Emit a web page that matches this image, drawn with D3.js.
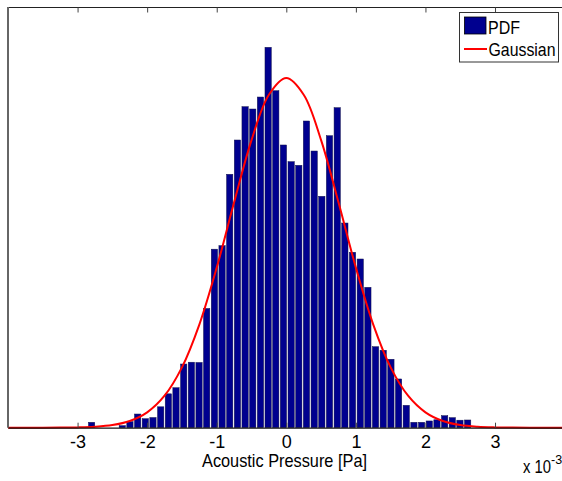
<!DOCTYPE html>
<html>
<head>
<meta charset="utf-8">
<script src="https://cdn.jsdelivr.net/npm/d3@7"></script>
<style>
  html, body { margin: 0; padding: 0; background: #fff; }
  svg { display: block; }
  text { font-family: "Liberation Sans", Arial, sans-serif; fill: #000; }
</style>
</head>
<body>
<svg id="chart" width="562" height="481"></svg>
<script>
// ---- data (x values in units of 1e-3 Pa) ----
const binCenters = [-2.794, -2.684, -2.573, -2.463, -2.353, -2.243, -2.132, -2.022, -1.912, -1.801,
                    -1.691, -1.581, -1.470, -1.360, -1.250, -1.140, -1.029, -0.919, -0.809, -0.698,
                    -0.588, -0.478, -0.367, -0.257, -0.147, -0.037, 0.074, 0.184, 0.294, 0.405,
                    0.515, 0.625, 0.736, 0.846, 0.956, 1.067, 1.177, 1.287, 1.397, 1.508,
                    1.618, 1.728, 1.839, 1.949, 2.059, 2.170, 2.280, 2.390, 2.500, 2.611];
const pdfValues = [7.7, 0, 0, 0, 2.9, 8.6, 19.5, 12.8, 14.5, 29.8,
                   48.3, 57.0, 90.8, 93.4, 93.0, 170.0, 254.6, 259.6, 361.4, 410.3,
                   457.8, 454.5, 471.6, 542.5, 480.6, 403.2, 379.4, 374.2, 437.4, 394.6,
                   330.0, 416.4, 456.4, 291.9, 250.2, 240.6, 200.2, 115.5, 110.4, 97.6,
                   69.5, 31.9, 7.7, 7.7, 9.6, 11.3, 17.1, 14.3, 10.7, 11.0];
const binWidth = 0.1103;
const gaussX = [-4, -3.75, -3.5, -3.25, -3, -2.75, -2.5, -2.25, -2, -1.75, -1.5, -1.25, -1, -0.75, -0.5, -0.25,
                0, 0.25, 0.5, 0.75, 1, 1.25, 1.5, 1.75, 2, 2.25, 2.5, 2.75, 3, 3.25, 3.5, 3.75, 4];
const gaussY = [0.002, 0.008, 0.035, 0.13, 0.44, 1.36, 3.78, 9.55, 21.9, 45.6, 86.0, 147.1, 228.3, 321.4, 410.2, 474.9,
                498.7, 474.9, 410.2, 321.4, 228.3, 147.1, 86.0, 45.6, 21.9, 9.55, 3.78, 1.36, 0.44, 0.13, 0.035, 0.008, 0.002];
const xTickValues = [-3, -2, -1, 0, 1, 2, 3];
const xTickLabels = ["-3", "-2", "-1", "0", "1", "2", "3"];
const xLabel = "Acoustic Pressure [Pa]";
const legendLabels = ["PDF", "Gaussian"];

// ---- layout ----
const svg = d3.select("#chart");
const pLeft = 8, pRight = 564.6, pTop = 7, pBottom = 427.7;
const x = d3.scaleLinear().domain([-4, 4]).range([pLeft, pRight]);
const y = d3.scaleLinear().domain([0, 600]).range([pBottom, pTop]);

const navy = "#00008f";

// bars
const bwPx = x(binWidth) - x(0);
svg.append("g").selectAll("rect")
  .data(binCenters.map((c, i) => ({c, v: pdfValues[i]})).filter(d => d.v > 0))
  .join("rect")
  .attr("x", d => x(d.c - binWidth / 2) + 0.4)
  .attr("width", bwPx - 1.4)
  .attr("y", d => y(d.v))
  .attr("height", d => y(0) - y(d.v))
  .attr("fill", navy)
  .attr("stroke", "#10104a")
  .attr("stroke-width", 0.5);

// gaussian
const line = d3.line().x((d, i) => x(gaussX[i])).y(d => y(d)).curve(d3.curveCatmullRom);
svg.append("path")
  .attr("d", line(gaussY))
  .attr("fill", "none")
  .attr("stroke", "#ff0000")
  .attr("stroke-width", 2);

// axes box
svg.append("line").attr("x1", pLeft).attr("x2", 562).attr("y1", pTop + 0.5).attr("y2", pTop + 0.5)
  .attr("stroke", "#222").attr("stroke-width", 1);
svg.append("line").attr("x1", pLeft).attr("x2", pLeft).attr("y1", pTop).attr("y2", pBottom)
  .attr("stroke", "#666").attr("stroke-width", 2);

const xAxisBottom = d3.axisBottom(x).tickValues(xTickValues)
  .tickFormat((d, i) => xTickLabels[i]).tickSizeInner(-5).tickSizeOuter(0).tickPadding(7.5);
const gB = svg.append("g").attr("transform", `translate(0,${pBottom})`).call(xAxisBottom);
gB.select(".domain").attr("stroke", "#111").attr("stroke-width", 1.2);
gB.selectAll(".tick line").attr("stroke", "#444");
gB.selectAll(".tick text").attr("font-size", 18).attr("font-family", "Liberation Sans, Arial, sans-serif")
  .attr("fill", "#000").attr("dy", "0.73em");

const xAxisTop = d3.axisTop(x).tickValues(xTickValues).tickFormat("").tickSizeInner(-5).tickSizeOuter(0);
const gT = svg.append("g").attr("transform", `translate(0,${pTop + 0.5})`).call(xAxisTop);
gT.select(".domain").remove();
gT.selectAll(".tick line").attr("stroke", "#444");

// x label
svg.append("text").attr("x", 202).attr("y", 466.5).attr("font-size", 18.5)
  .attr("textLength", 165).attr("lengthAdjust", "spacingAndGlyphs").text(xLabel);

// exponent
const ex = svg.append("text").attr("x", 523).attr("y", 473).attr("font-size", 18);
ex.append("tspan").attr("textLength", 28).attr("lengthAdjust", "spacingAndGlyphs").text("x 10");
ex.append("tspan").attr("font-size", 12.5).attr("dy", -9).attr("dx", 0).text("-3");

// legend
const lg = svg.append("g");
lg.append("rect").attr("x", 459.5).attr("y", 12.5).attr("width", 99).attr("height", 49.5)
  .attr("fill", "#fff").attr("stroke", "#333").attr("stroke-width", 1);
lg.append("rect").attr("x", 464.5).attr("y", 17).attr("width", 21.5).attr("height", 17)
  .attr("fill", navy).attr("stroke", "#000").attr("stroke-width", 0.8);
lg.append("text").attr("x", 488).attr("y", 33.5).attr("font-size", 19)
  .attr("textLength", 32).attr("lengthAdjust", "spacingAndGlyphs").text(legendLabels[0]);
lg.append("line").attr("x1", 464).attr("x2", 487).attr("y1", 49).attr("y2", 49)
  .attr("stroke", "#ff0000").attr("stroke-width", 2);
lg.append("text").attr("x", 488.5).attr("y", 55.5).attr("font-size", 18.5)
  .attr("textLength", 67).attr("lengthAdjust", "spacingAndGlyphs").text(legendLabels[1]);
</script>
</body>
</html>
